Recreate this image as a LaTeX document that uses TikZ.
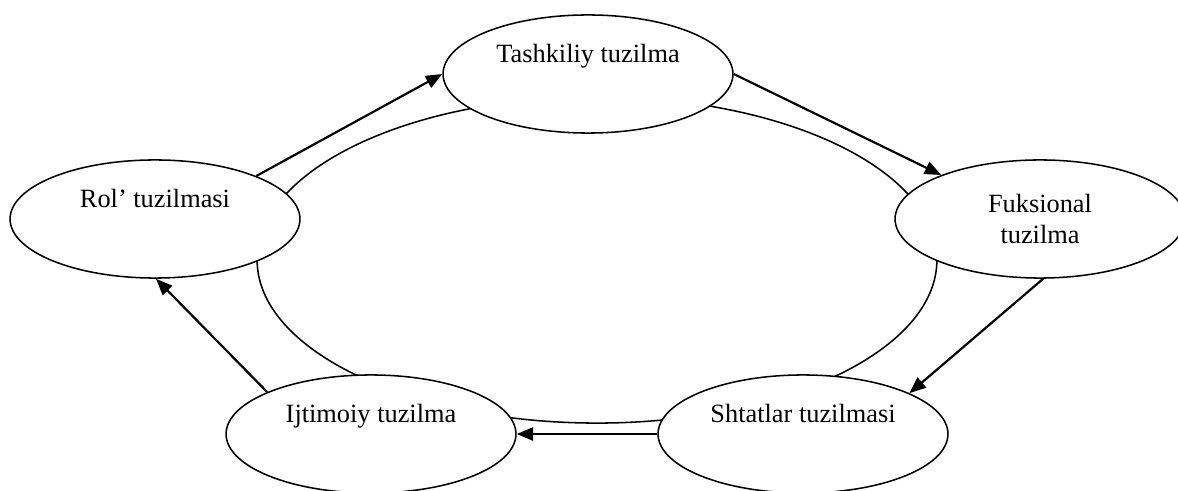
\documentclass[tikz,border=0pt]{standalone}
\usepackage{fontspec}
\setmainfont{Liberation Serif}
\usetikzlibrary{shapes.geometric,arrows.meta}

\begin{document}
\begin{tikzpicture}[x=0.016cm,y=-0.016cm,
		part/.style={ellipse,draw,fill=white,line width=0.7pt,inner sep=0pt,minimum width=4.64cm,minimum height=1.89cm,align=center,font=\fontsize{12pt}{14.5pt}\selectfont},
		flow/.style={line width=1pt,-{Triangle[length=7.5pt,width=6pt]}}]
				\pgfdeclarelayer{bg}
				\pgfsetlayers{bg,main}
				\useasboundingbox (0,0) rectangle (1178,491);
				\node[part] (tash) at (588,74) {Tashkiliy tuzilma\\ \strut};
				\node[part] (fuk) at (1040,219) {Fuksional\\tuzilma};
				\node[part] (shtat) at (803,434) {Shtatlar tuzilmasi\\ \strut};
				\node[part] (ijt) at (371,434) {Ijtimoiy tuzilma\\ \strut};
				\node[part] (rol) at (155,219) {Rol’ tuzilmasi\\ \strut};
				\draw[flow] (rol.23) -- (tash.west);
				\draw[flow] (tash.east) -- (fuk.156);
				\draw[flow] (fuk.-87) -- (shtat.21);
				\draw[flow] (shtat.west) -- (ijt.east);
				\draw[flow] (ijt.158) -- (rol.-89);
				\begin{pgfonlayer}{bg}
					\node[ellipse,draw,line width=0.7pt,minimum width=10.88cm,minimum height=5.22cm] (ring) at (597,260) {};
				\end{pgfonlayer}
\end{tikzpicture}
\end{document}
